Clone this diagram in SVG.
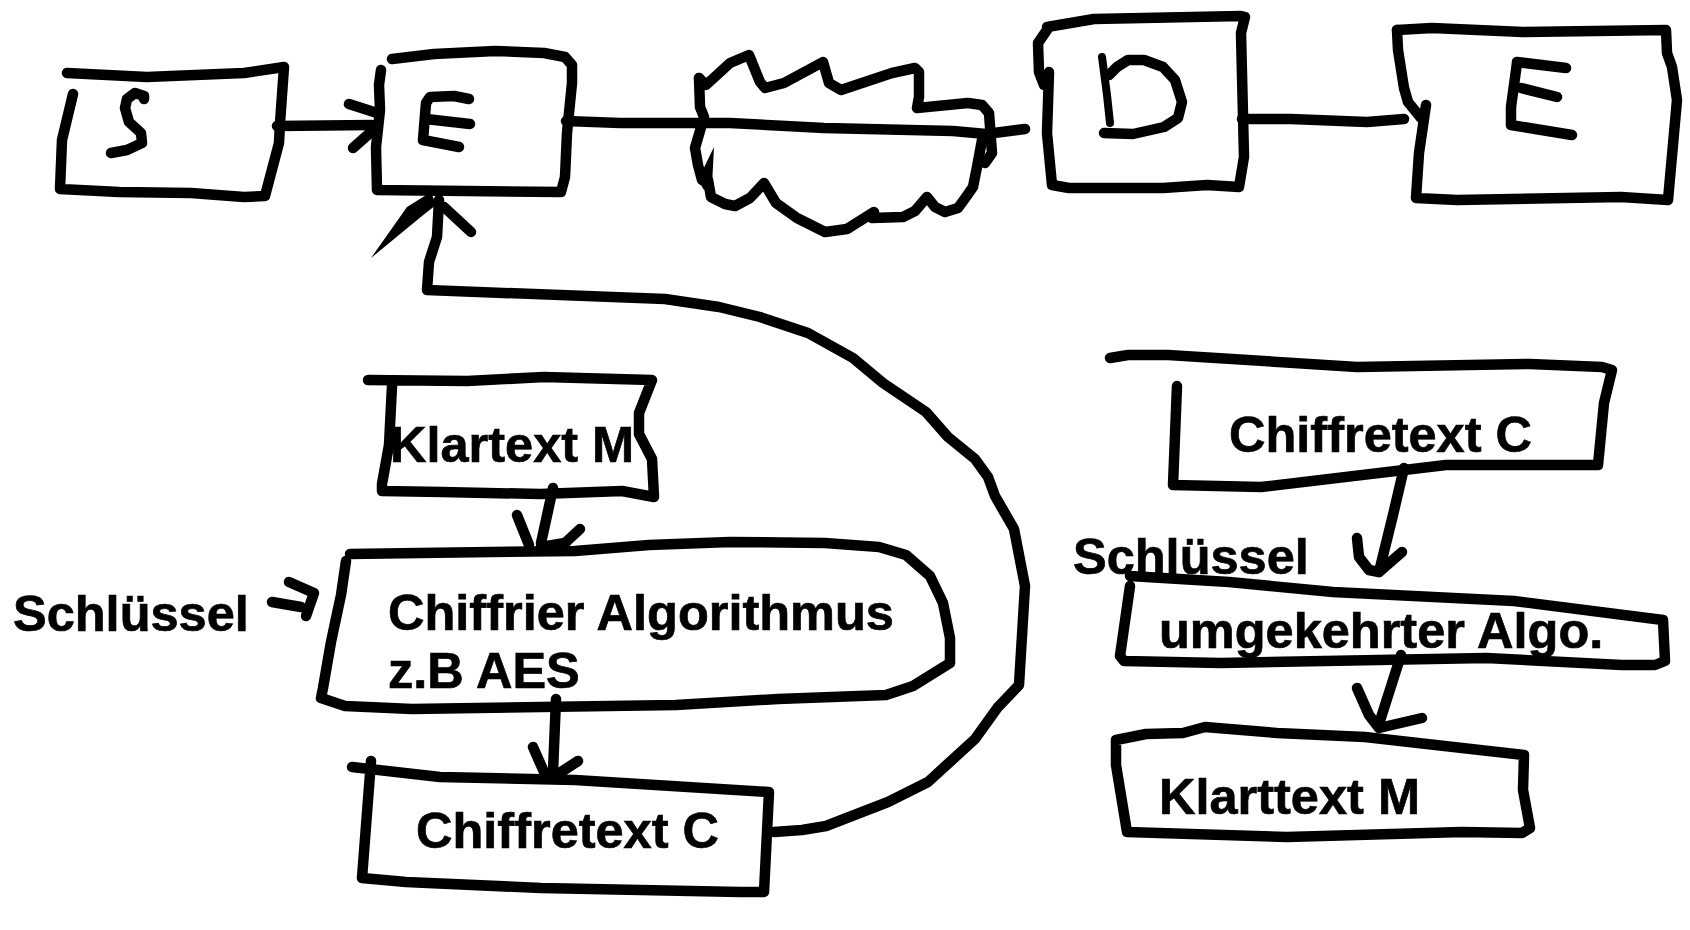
<svg xmlns="http://www.w3.org/2000/svg" width="1690" height="930" viewBox="0 0 1690 930">
<style>
.s{fill:none;stroke:#000;stroke-width:10.5;stroke-linecap:round;stroke-linejoin:round}
.t{font-family:"Liberation Sans",Arial,sans-serif;font-weight:700;font-size:50.5px;fill:#000;stroke:#000;stroke-width:.7}
.f{fill:#000;stroke:none}
</style>
<rect width="1690" height="930" fill="#fff"/>
<g id="node-s">
<polyline class="s" points="67,73 147,77 244,73 284,67 280,123 279,143 265,196 244,197 191,193 119,192 60,189 62,140 73,94"/>
<polyline class="s" points="144,99 144,96 135,93 127,99 125,108 129,122 141,133 142,143 127,150 111,153"/>
</g>
<g id="node-e1">
<polyline class="s" points="392,59 434,54 495,51 544,53 565,57 572,65 572,83 567,133 565,177 561,192 377,190 376,147 380,110 379,85 381,70"/>
<polyline class="s" points="469,99 454,96 430,97 426,103 423,140 459,147"/>
<polyline class="s" points="426,119 470,124"/>
</g>
<g id="node-cloud">
<polyline class="s" points="699,78 700,107 704,117 695,148 698,165 702,180"/>
<polygon class="f" points="698,180 714,147 712,185 704,190"/>
<polyline class="s" points="699,78 706,85 730,63 749,55 760,82 765,88 784,83 823,62 829,83 841,90 853,86 892,73 915,68 919,72 919,97 917,108 968,103 982,105 989,113 992,153 985,163"/>
<polyline class="s" points="708,180 711,197 725,204 735,206 750,198 764,183 776,203 797,218 825,232 847,229 874,212 872,218 903,217 915,211 927,197 935,207 945,212 958,208 966,197 973,187 977,167 982,140"/>
</g>
<g id="node-d">
<polyline class="s" points="1047,27 1094,19 1241,16 1245,17 1241,33 1244,157 1239,187 1207,185 1163,188 1069,188 1052,185 1047,133 1049,72"/>
<polyline class="s" points="1047,30 1038,43 1039,72 1044,85"/>
<polyline class="s" points="1102,57 1107,95 1110,123" style="stroke-width:8"/>
<polyline class="s" points="1109,75 1117,67 1128,60 1144,60 1163,67 1175,80 1182,102 1178,118 1164,127 1133,134 1104,133"/>
</g>
<g id="node-e2">
<polyline class="s" points="1397,30 1432,28 1523,32 1666,30 1667,53 1672,67 1677,100 1668,200 1621,197 1457,200 1416,198 1419,153 1426,105"/>
<polyline class="s" points="1397,30 1398,50 1404,88 1408,102 1421,118"/>
<polyline class="s" points="1517,62 1566,68"/>
<polyline class="s" points="1517,63 1511,107 1511,125 1572,135"/>
<polyline class="s" points="1521,88 1557,97"/>
</g>
<g id="node-klartext">
<polyline class="s" points="368,380 467,381 544,377 652,380 639,413 639,434 652,459 654,497 622,491 540,494 442,492 382,491 382,484 389,445 392,386"/>
<text class="t" x="390" y="462">Klartext M</text>
</g>
<g id="node-algorithmus">
<polyline class="s" points="350,554 419,553 575,551 649,545 730,542 825,543 879,547 906,555 930,576 943,603 950,638 950,663 913,686 886,695 778,699 676,705 412,709 345,706 321,698 323,688 331,642 341,595 346,561"/>
<text class="t" x="388" y="630">Chiffrier Algorithmus</text>
<text class="t" x="388" y="688">z.B AES</text>
</g>
<g id="node-schluessel-1">
<text class="t" x="13" y="631">Schlüssel</text>
</g>
<g id="node-chiffretext-1">
<polyline class="s" points="352,767 440,777 575,780 769,792 764,892 740,892 541,888 406,882 362,878 371,761"/>
<text class="t" x="416" y="848">Chiffretext C</text>
</g>
<g id="node-chiffretext-2">
<polyline class="s" points="1110,358 1128,355 1168,355 1357,367 1530,364 1602,367 1612,370 1604,403 1598,465 1446,465 1261,487 1173,485 1177,386"/>
<text class="t" x="1229" y="452">Chiffretext C</text>
</g>
<g id="node-schluessel-2">
<text class="t" x="1073" y="574">Schlüssel</text>
</g>
<g id="node-umgekehrt">
<polyline class="s" points="1130,576 1229,582 1333,592 1514,601 1663,620 1665,661 1655,665 1622,665 1486,658 1221,663 1124,661 1120,656 1130,586"/>
<text class="t" x="1159" y="648">umgekehrter Algo.</text>
</g>
<g id="node-klarttext">
<polyline class="s" points="1116,743 1116,740 1146,734 1183,733 1205,727 1277,733 1365,737 1524,755 1523,790 1530,828 1522,833 1462,832 1287,837 1127,832 1116,765 1116,743"/>
<text class="t" x="1159" y="814">Klarttext M</text>
</g>
<g id="connectors">
<polyline class="s" points="277,126 372,125"/>
<polyline class="s" points="349,104 377,113"/>
<polyline class="s" points="353,148 371,132"/>
<polyline class="s" points="566,121 620,123 730,123 824,128 953,131 986,134 1025,129"/>
<polyline class="s" points="1242,119 1291,119 1367,122 1404,119"/>
<polygon class="f" points="371,258 407,207 431,192 436,205 422,216"/>
<polyline class="s" points="444,207 471,232"/>
<polyline class="s" points="439,200 437,237 429,262 427,290 665,299 719,307 760,317 808,333 853,358 883,383 926,412 948,437 975,459 988,477 995,496 1014,529 1025,586 1019,685 998,707 975,739 928,782 888,802 826,826 802,830 774,832"/>
<polyline class="s" points="553,488 541,543"/>
<polyline class="s" points="517,515 529,545"/>
<polyline class="s" points="580,529 565,543 541,547"/>
<polyline class="s" points="289,582 314,593 306,616"/>
<polyline class="s" points="272,602 301,607"/>
<polyline class="s" points="556,699 553,772"/>
<polyline class="s" points="533,747 544,772"/>
<polyline class="s" points="578,761 558,774"/>
<polyline class="s" points="1404,468 1393,515 1379,572"/>
<polyline class="s" points="1357,538 1359,557 1369,570 1379,572 1402,552"/>
<polyline class="s" points="1401,655 1379,724"/>
<polyline class="s" points="1357,688 1369,715 1379,728 1422,718"/>
</g>
</svg>
